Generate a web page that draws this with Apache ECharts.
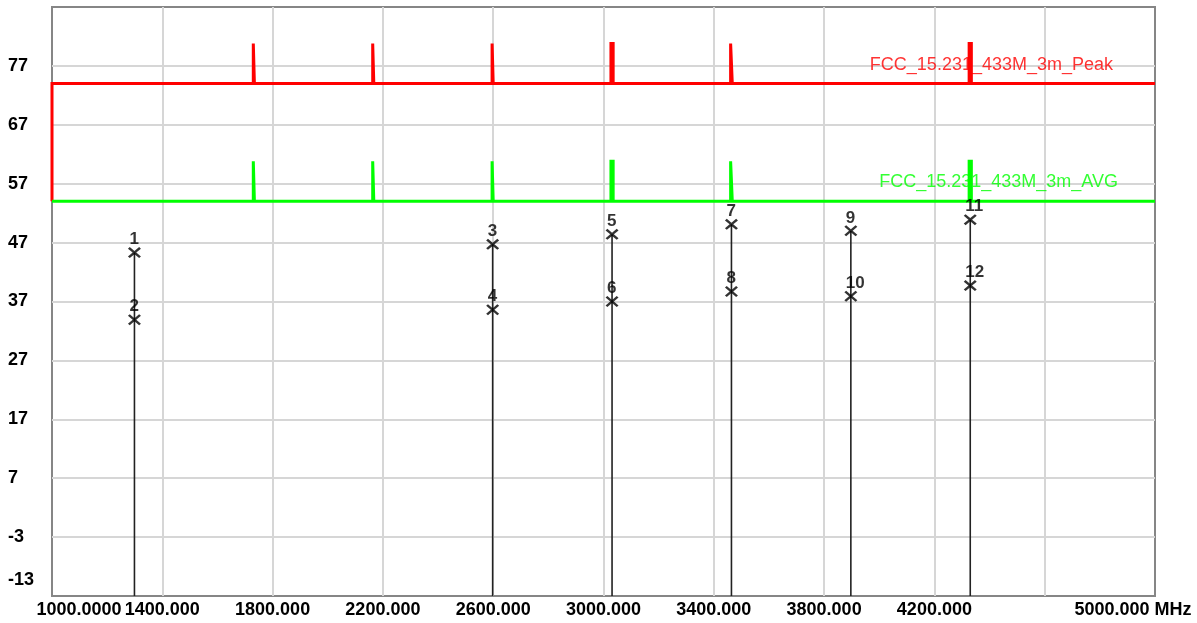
<!DOCTYPE html>
<html><head><meta charset="utf-8">
<script src="https://cdn.jsdelivr.net/npm/echarts@6/dist/echarts.min.js"></script>
<style>html,body{margin:0;padding:0;background:#fff}#c{width:1197px;height:623px}</style>
</head><body><div id="c"></div>
<script>
// ---- data ----
const xTickValues = [1000, 1400, 1800, 2200, 2600, 3000, 3400, 3800, 4200, 4600, 5000];
const xTickLabels = ['1000.0000', '1400.000', '1800.000', '2200.000', '2600.000', '3000.000', '3400.000', '3800.000', '4200.000', '', '5000.000 MHz'];
const yTickValues = [-13, -3, 7, 17, 27, 37, 47, 57, 67, 77, 87];
const yTickLabels = ['-13', '-3', '7', '17', '27', '37', '47', '57', '67', '77', ''];

// limit lines (dBuV/m) with harmonic windows (MHz)
const limitStartFreq = 1000;
const limitEndFreq = 5000;
const harmonicFreqs = [1732, 2165, 2598, 3031, 3464, 4330];
const harmonicHalfWidths = [2, 2, 2, 4, 3, 4];
const peakLimit = 74;
const peakHarmonicLimit = 80.8;
const avgLimit = 54;
const avgHarmonicLimit = 60.8;
const peakLabel = 'FCC_15.231_433M_3m_Peak';
const avgLabel = 'FCC_15.231_433M_3m_AVG';

// markers
const markerIds = ['1', '2', '3', '4', '5', '6', '7', '8', '9', '10', '11', '12'];
const markerFreqs = [1299, 1299, 2598, 2598, 3031, 3031, 3464, 3464, 3897, 3897, 4330, 4330];
const markerLevels = [45.3, 33.9, 46.7, 35.6, 48.4, 37.0, 50.1, 38.7, 49.0, 37.9, 50.9, 39.7];

// ---- build ----
const yMin = -13, yMax = 87;
function limitData(base, harm, startLevel) {
  const d = [[limitStartFreq, startLevel], [limitStartFreq, base]];
  harmonicFreqs.forEach((f, i) => {
    const w = harmonicHalfWidths[i];
    d.push([f - w, base], [f - w, harm], [f + w, harm], [f + w, base]);
  });
  d.push([limitEndFreq, base]);
  return d;
}
const FONT = "'Liberation Sans', Arial, sans-serif";

const stemTops = {};
markerFreqs.forEach((f, i) => { stemTops[f] = Math.max(stemTops[f] ?? -Infinity, markerLevels[i]); });
const stemSeries = Object.keys(stemTops).map(f => ({
  type: 'line', data: [[+f, stemTops[f]], [+f, yMin]], symbol: 'none', silent: true,
  lineStyle: { color: '#222', width: 1.6 }, z: 3, animation: false
}));

const xSymbol = 'path://M0,1.4 L1.4,0 L5,3.6 L8.6,0 L10,1.4 L6.4,5 L10,8.6 L8.6,10 L5,6.4 L1.4,10 L0,8.6 L3.6,5 Z';

const labelStyle = { fontFamily: FONT, fontSize: 18, fontWeight: 'bold', color: '#000' };

const option = {
  animation: false,
  backgroundColor: '#ffffff',
  grid: { left: 52, right: 42, top: 7, bottom: 27, show: true, borderColor: '#868686', borderWidth: 2 },
  xAxis: {
    type: 'value', min: 1000, max: 5000, interval: 400,
    axisLine: { show: false }, axisTick: { show: false },
    splitLine: { show: true, showMinLine: false, showMaxLine: false, lineStyle: { color: '#d6d6d6', width: 2 } },
    axisLabel: {
      margin: 5, showMinLabel: true, showMaxLabel: true,
      formatter: v => {
        const i = xTickValues.indexOf(Math.round(v));
        if (i < 0) return '';
        if (i === 0) return '{first|' + xTickLabels[i] + '}';
        if (i === xTickValues.length - 1) return '{last|' + xTickLabels[i] + '}';
        return xTickLabels[i] ? '{n|' + xTickLabels[i] + '}' : '';
      },
      rich: {
        n: { ...labelStyle },
        first: { ...labelStyle, padding: [0, 0, 0, 54] },
        last: { ...labelStyle, padding: [0, 44, 0, 0] }
      }
    }
  },
  yAxis: {
    type: 'value', min: yMin, max: yMax, interval: 10,
    axisLine: { show: false }, axisTick: { show: false },
    splitLine: { show: true, showMinLine: false, showMaxLine: false, lineStyle: { color: '#d6d6d6', width: 2 } },
    axisLabel: {
      margin: 44, align: 'left', showMinLabel: true, showMaxLabel: true,
      formatter: v => {
        const i = yTickValues.indexOf(Math.round(v));
        if (i < 0 || !yTickLabels[i]) return '';
        return i === 0 ? '{low|' + yTickLabels[i] + '}' : '{n|' + yTickLabels[i] + '}';
      },
      rich: {
        n: { ...labelStyle },
        low: { ...labelStyle, padding: [0, 0, 32, 0] }
      }
    }
  },
  series: [
    {
      type: 'scatter', data: [[limitEndFreq, peakLimit]], symbolSize: 0, z: 2, silent: true,
      label: { show: true, position: 'left', distance: 42, offset: [0, -19], formatter: peakLabel,
        fontFamily: FONT, fontSize: 18, color: '#ff0000' }
    },
    {
      type: 'scatter', data: [[limitEndFreq, avgLimit]], symbolSize: 0, z: 2, silent: true,
      label: { show: true, position: 'left', distance: 37, offset: [0, -19], formatter: avgLabel,
        fontFamily: FONT, fontSize: 18, color: '#00ff00' }
    },
    {
      type: 'line', data: limitData(peakLimit, peakHarmonicLimit, avgLimit), symbol: 'none', clip: false,
      lineStyle: { color: '#ff0000', width: 3, cap: 'butt', join: 'miter' }, z: 4, silent: true
    },
    {
      type: 'line', data: limitData(avgLimit, avgHarmonicLimit, avgLimit), symbol: 'none', clip: false,
      lineStyle: { color: '#00ff00', width: 3, cap: 'butt', join: 'miter' }, z: 4, silent: true
    },
    ...stemSeries,
    {
      type: 'scatter', z: 5,
      data: markerFreqs.map((f, i) => ({ value: [f, markerLevels[i]], name: markerIds[i] })),
      symbol: xSymbol, symbolSize: [13, 11],
      itemStyle: { color: '#000' },
      label: { show: true, position: 'top', distance: 0, align: 'left', offset: [-5, 1], formatter: p => p.name,
        fontFamily: FONT, fontSize: 17, fontWeight: 'bold', color: '#000' }
    }
  ]
};
const chart = echarts.init(document.getElementById('c'), null, { renderer: 'canvas' });
chart.setOption(option);
</script>
</body></html>
